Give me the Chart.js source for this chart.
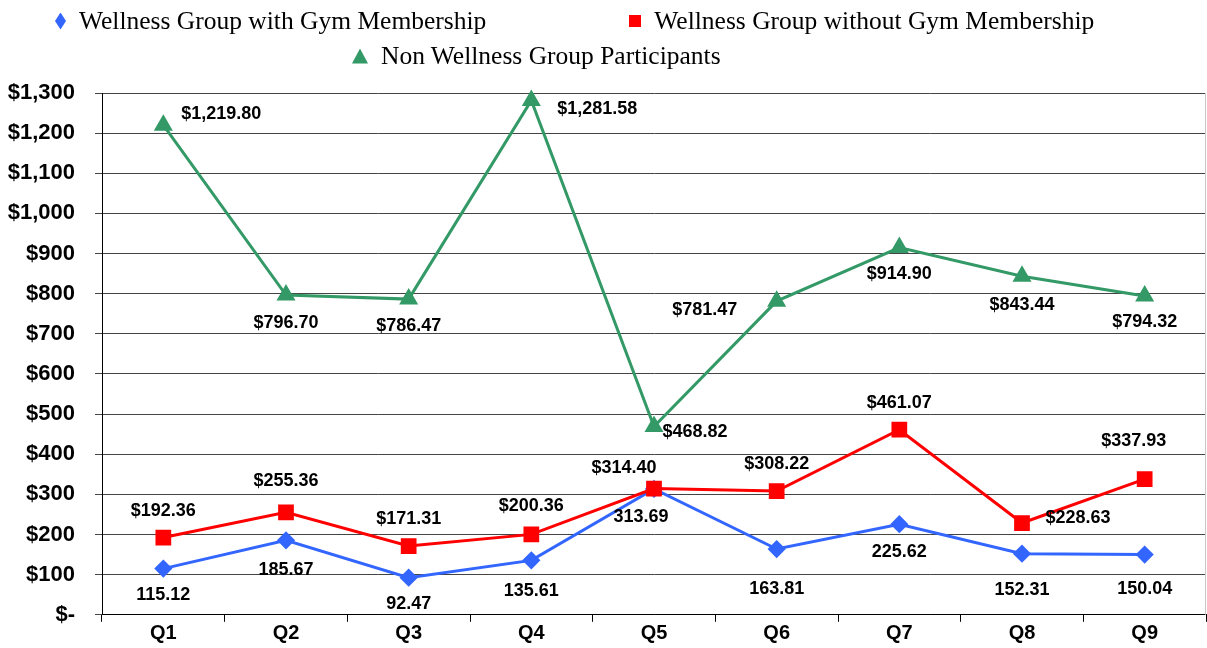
<!DOCTYPE html>
<html>
<head>
<meta charset="utf-8">
<script src="https://cdn.jsdelivr.net/npm/chart.js@4"></script>
<style>
  html, body { margin: 0; padding: 0; background: #fff; }
  #wrap { position: relative; width: 1207px; height: 648px; }
  canvas { display: block; }
  #legend { position: absolute; left: 0; top: 0; width: 1207px; height: 75px;
            font-family: "Liberation Serif", "Times New Roman", serif; font-size: 25.5px; color: #000; }
  .row { position: absolute; display: flex; align-items: center; white-space: nowrap; }
  .item { display: flex; align-items: center; }
  .mk { display: inline-block; margin-right: 13px; }
  .diamond { width: 11px; height: 17px; background: #3366FF; clip-path: polygon(50% 0, 100% 50%, 50% 100%, 0 50%); }
  .square { width: 12px; height: 12px; background: #FF0000; }
  .triangle { width: 16px; height: 15px; background: #339966; clip-path: polygon(50% 0, 100% 100%, 0 100%); }
</style>
</head>
<body>
<div id="wrap">
  <canvas id="chart" width="1207" height="648"></canvas>
  <div id="legend"></div>
</div>
<script>
const quarters = ['Q1', 'Q2', 'Q3', 'Q4', 'Q5', 'Q6', 'Q7', 'Q8', 'Q9'];
const withGym = [115.12, 185.67, 92.47, 135.61, 313.69, 163.81, 225.62, 152.31, 150.04];
const withoutGym = [192.36, 255.36, 171.31, 200.36, 314.40, 308.22, 461.07, 228.63, 337.93];
const nonWellness = [1219.80, 796.70, 786.47, 1281.58, 468.82, 781.47, 914.90, 843.44, 794.32];
const seriesNames = [
    'Wellness Group with Gym Membership',
    'Wellness Group without Gym Membership',
    'Non Wellness Group Participants'
];

// label nudges relative to each point, in px
const withGymLabelShift = [[0, 26], [0, 30], [0, 26], [0, 31], [-13, 28], [0, 40], [0, 28], [0, 36], [0, 34]];
const withoutGymLabelShift = [[0, -27], [0, -31], [0, -27], [0, -28], [-30, -21], [0, -27], [0, -27], [56, -5], [-11, -38]];
const nonWellnessLabelShift = [[58, -11], [0, 28], [0, 27], [66, 9], [41, 5], [-72, 9], [0, 26], [0, 29], [0, 26]];

const BLUE = '#3366FF';
const RED = '#FF0000';
const GREEN = '#339966';
const AXIS_FONT = '"Liberation Sans", Arial, sans-serif';

function money(v, withSign) {
    const s = v.toLocaleString('en-US', {minimumFractionDigits: 2, maximumFractionDigits: 2});
    return withSign ? '$' + s : s;
}

const pointLabels = {
    id: 'pointLabels',
    afterDatasetsDraw(chart) {
        const ctx = chart.ctx;
        ctx.save();
        ctx.font = 'bold 18px ' + AXIS_FONT;
        ctx.fillStyle = '#000';
        ctx.textAlign = 'center';
        ctx.textBaseline = 'middle';
        chart.data.datasets.forEach((ds, i) => {
            const meta = chart.getDatasetMeta(i);
            meta.data.forEach((pt, j) => {
                const shift = ds.labelShift[j];
                ctx.fillText(money(ds.data[j], ds.dollarLabels), pt.x + shift[0], pt.y + shift[1]);
            });
        });
        ctx.restore();
    }
};

// thin grey frame line on the right side of the plot
const rightEdge = {
    id: 'rightEdge',
    beforeDatasetsDraw(chart) {
        const a = chart.chartArea;
        const ctx = chart.ctx;
        ctx.save();
        ctx.strokeStyle = '#c8c8c8';
        ctx.lineWidth = 1;
        ctx.beginPath();
        ctx.moveTo(a.right - 0.5, a.top);
        ctx.lineTo(a.right - 0.5, a.bottom);
        ctx.stroke();
        ctx.restore();
    }
};

new Chart(document.getElementById('chart'), {
    type: 'line',
    data: {
        labels: quarters,
        datasets: [
            {
                label: seriesNames[0], data: withGym, borderColor: BLUE, backgroundColor: BLUE,
                borderWidth: 3, pointStyle: 'rectRot', pointRadius: 7, order: 1, clip: false,
                labelShift: withGymLabelShift, dollarLabels: false
            },
            {
                label: seriesNames[1], data: withoutGym, borderColor: RED, backgroundColor: RED,
                borderWidth: 3, pointStyle: 'rect', pointRadius: 9, order: 0, clip: false,
                labelShift: withoutGymLabelShift, dollarLabels: true
            },
            {
                label: seriesNames[2], data: nonWellness, borderColor: GREEN, backgroundColor: GREEN,
                borderWidth: 3, pointStyle: 'triangle', pointRadius: 8, order: 2, clip: false,
                labelShift: nonWellnessLabelShift, dollarLabels: true
            }
        ]
    },
    options: {
        responsive: false,
        animation: false,
        layout: { autoPadding: false, padding: { top: 93, left: 6, right: 1, bottom: 0 } },
        plugins: { legend: { display: false }, tooltip: { enabled: false } },
        elements: { line: { tension: 0 } },
        scales: {
            x: {
                offset: true,
                afterFit: (scale) => { scale.paddingLeft = 0; scale.paddingRight = 0; },
                grid: { offset: true, drawOnChartArea: false, drawTicks: true, tickLength: 7, color: '#000' },
                border: { color: '#000', width: 1 },
                ticks: { color: '#000', padding: 0, font: { family: AXIS_FONT, size: 20, weight: 'bold' } }
            },
            y: {
                min: 0, max: 1300,
                afterFit: (scale) => { scale.width = 96; },
                grid: { color: '#444', tickLength: 7 },
                border: { color: '#000', width: 1 },
                ticks: {
                    stepSize: 100, color: '#000', padding: 20,
                    font: { family: AXIS_FONT, size: 22, weight: 'bold' },
                    callback: (v) => v === 0 ? '$-' : '$' + v.toLocaleString('en-US')
                }
            }
        }
    },
    plugins: [pointLabels, rightEdge]
});

// legend rows
const legendRows = [
    { left: 55, top: 6, items: [[0, 'diamond'], [1, 'square']] },
    { left: 352, top: 41, items: [[2, 'triangle']] }
];
const legendEl = document.getElementById('legend');
legendRows.forEach((r) => {
    const row = document.createElement('div');
    row.className = 'row';
    row.style.left = r.left + 'px';
    row.style.top = r.top + 'px';
    r.items.forEach(([idx, shape], k) => {
        const item = document.createElement('span');
        item.className = 'item';
        if (k > 0) item.style.marginLeft = '143px';
        item.innerHTML = '<span class="mk ' + shape + '"></span><span>' + seriesNames[idx] + '</span>';
        row.appendChild(item);
    });
    legendEl.appendChild(row);
});
</script>
</body>
</html>
